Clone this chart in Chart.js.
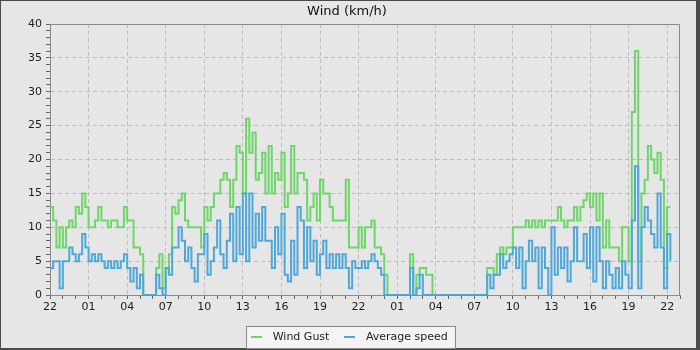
<!DOCTYPE html>
<html>
<head>
<meta charset="utf-8">
<title>Wind (km/h)</title>
<script src="https://cdn.jsdelivr.net/npm/chart.js@4.4.1/dist/chart.umd.min.js"></script>
<style>
  html, body { margin: 0; padding: 0; background: #4b4b4b; }
  #wrap { width: 700px; height: 350px; }
</style>
</head>
<body>
<div id="wrap"><canvas id="windChart" width="700" height="350"></canvas></div>
<script>
// one reading every 15 minutes, first one at 22:00
const stepHours = 0.25;

// tick labels every 3 hours
const xTickLabels = ['22', '01', '04', '07', '10', '13', '16', '19', '22', '01', '04', '07', '10', '13', '16', '19', '22'];

// gust (km/h)
const windGust = [
  13, 11, 7, 10, 7, 10, 11, 10, 13, 12,
  15, 13, 10, 10, 11, 13, 11, 11, 10, 11,
  11, 10, 10, 13, 11, 11, 7, 7, 6, 0,
  0, 0, 0, 4, 6, 1, 4, 6, 13, 12,
  14, 15, 11, 10, 10, 10, 10, 7, 13, 11,
  13, 15, 15, 17, 18, 17, 13, 17, 22, 21,
  15, 26, 21, 24, 17, 18, 21, 15, 22, 15,
  18, 17, 21, 13, 15, 22, 15, 18, 18, 17,
  11, 13, 15, 11, 17, 15, 15, 13, 11, 11,
  11, 11, 17, 7, 7, 7, 10, 7, 10, 10,
  11, 7, 7, 6, 3, 0, 0, 0, 0, 0,
  0, 0, 6, 0, 3, 4, 4, 3, 3, 0,
  0, 0, 0, 0, 0, 0, 0, 0, 0, 0,
  0, 0, 0, 0, 0, 0, 4, 4, 3, 6,
  7, 6, 7, 7, 10, 10, 10, 10, 11, 10,
  11, 10, 11, 10, 11, 11, 11, 11, 13, 11,
  10, 11, 11, 13, 11, 13, 14, 15, 13, 15,
  11, 15, 7, 11, 7, 7, 7, 5, 10, 10,
  5, 27, 36, 5, 15, 17, 22, 20, 18, 21,
  17, 4, 13, 13
];

// average speed (km/h)
const averageSpeed = [
  4, 5, 5, 1, 5, 5, 7, 6, 5, 6,
  9, 7, 5, 6, 5, 6, 5, 4, 5, 4,
  5, 4, 5, 6, 4, 2, 4, 1, 3, 0,
  0, 0, 0, 3, 1, 0, 4, 3, 7, 7,
  10, 8, 5, 7, 4, 2, 6, 6, 9, 3,
  5, 7, 11, 6, 4, 8, 12, 5, 13, 6,
  15, 5, 15, 7, 12, 8, 13, 8, 8, 4,
  10, 6, 12, 3, 2, 8, 3, 13, 11, 4,
  10, 5, 8, 3, 6, 8, 4, 6, 4, 6,
  4, 6, 4, 1, 5, 4, 4, 5, 4, 5,
  6, 5, 4, 3, 0, 0, 0, 0, 0, 0,
  0, 0, 4, 0, 1, 3, 0, 0, 0, 0,
  0, 0, 0, 0, 0, 0, 0, 0, 0, 0,
  0, 0, 0, 0, 0, 0, 3, 1, 3, 3,
  6, 4, 5, 6, 7, 4, 7, 1, 5, 8,
  5, 7, 1, 7, 4, 0, 10, 3, 7, 4,
  7, 2, 5, 10, 5, 5, 9, 4, 10, 2,
  10, 5, 1, 5, 3, 1, 4, 1, 5, 3,
  1, 11, 19, 1, 10, 13, 11, 9, 7, 15,
  7, 1, 9, 5
];

const gustColor = '#6fd66a';
const avgColor = '#4ea8d9';

const hours = windGust.map((_, i) => i * stepHours);

Chart.defaults.font.family = "'DejaVu Sans', sans-serif";
Chart.defaults.font.size = 11;
Chart.defaults.color = '#222';

// small line used as the legend mark
function legendMark(color) {
    const c = document.createElement('canvas');
    c.width = 11;
    c.height = 2;
    const g = c.getContext('2d');
    g.fillStyle = color;
    g.fillRect(0, 0, 11, 2);
    return c;
}

const framePlugin = {
    id: 'frame',
    afterLayout(chart) {
        // push the legend a bit lower, like the original
        chart.legend.top += 2.5;
        chart.legend.bottom += 2.5;
    },
    beforeDraw(chart) {
        const ctx = chart.ctx;
        ctx.save();
        ctx.fillStyle = '#4b4b4b';
        ctx.fillRect(0, 0, chart.width, chart.height);
        ctx.fillStyle = '#e6e6e6';
        ctx.fillRect(1, 1, 695, 347);

        // box around the legend
        const lg = chart.legend;
        const hb = lg.legendHitBoxes;
        if (hb && hb.length) {
            const left = Math.round(hb[0].left) + 0.5;
            const last = hb[hb.length - 1];
            const right = Math.round(last.left + last.width + 7) + 0.5;
            const mid = lg.top + 10 + 5.5;
            const top = Math.round(mid - 11) + 0.5;
            ctx.fillStyle = '#f4f4f4';
            ctx.strokeStyle = '#8a8a8a';
            ctx.lineWidth = 1;
            ctx.fillRect(left, top, right - left, 22);
            ctx.strokeRect(left, top, right - left, 22);
        }
        ctx.restore();
    },
    beforeDatasetsDraw(chart) {
        const {ctx, chartArea: a} = chart;
        ctx.save();
        ctx.strokeStyle = '#8a8a8a';
        ctx.lineWidth = 1;
        ctx.beginPath();
        ctx.moveTo(a.left, Math.round(a.top) + 0.5);
        ctx.lineTo(Math.round(a.right) - 0.5, Math.round(a.top) + 0.5);
        ctx.lineTo(Math.round(a.right) - 0.5, a.bottom);
        ctx.stroke();
        ctx.restore();
    }
};

new Chart(document.getElementById('windChart'), {
    type: 'line',
    data: {
        datasets: [
            {
                label: 'Average speed',
                data: hours.map((h, i) => ({x: h, y: averageSpeed[i]})),
                borderColor: avgColor,
                backgroundColor: avgColor,
                borderWidth: 2,
                stepped: true,
                pointRadius: 0,
                fill: false
            },
            {
                label: 'Wind Gust',
                data: hours.map((h, i) => ({x: h, y: windGust[i]})),
                borderColor: gustColor,
                backgroundColor: gustColor,
                borderWidth: 2,
                stepped: true,
                pointRadius: 0,
                fill: false
            }
        ]
    },
    options: {
        responsive: false,
        animation: false,
        events: [],
        layout: {padding: {left: 14, right: 20, top: 0, bottom: 0}},
        plugins: {
            title: {
                display: true,
                text: 'Wind (km/h)',
                color: '#111',
                font: {size: 13, weight: 'normal'},
                padding: {top: 4, bottom: 4.4}
            },
            legend: {
                position: 'bottom',
                labels: {
                    usePointStyle: true,
                    pointStyleWidth: 21,
                    padding: 10,
                    color: '#222',
                    font: {size: 11},
                    generateLabels: chart => [1, 0].map(i => {
                        const ds = chart.data.datasets[i];
                        return {
                            text: ds.label,
                            pointStyle: legendMark(ds.borderColor),
                            fillStyle: ds.borderColor,
                            strokeStyle: ds.borderColor,
                            lineWidth: 0,
                            hidden: false,
                            datasetIndex: i,
                            fontColor: '#222'
                        };
                    })
                }
            },
            tooltip: {enabled: false}
        },
        scales: {
            x: {
                type: 'linear',
                min: 0,
                max: 49,
                afterFit: scale => { scale.height = 24; },
                ticks: {
                    stepSize: 1,
                    autoSkip: false,
                    maxTicksLimit: 100,
                    maxRotation: 0,
                    padding: 2,
                    color: '#222',
                    callback: v => (v % 3 === 0 ? xTickLabels[v / 3] : '')
                },
                grid: {
                    color: c => (c.tick && c.tick.value % 3 === 0 && c.tick.value > 0 ? '#bdbdbd' : 'transparent'),
                    tickColor: '#666',
                    tickLength: 4,
                    lineWidth: 1
                },
                border: {color: '#8a8a8a', width: 1, dash: [4, 3]}
            },
            y: {
                min: 0,
                max: 40,
                afterFit: scale => { scale.width = 36; },
                ticks: {
                    stepSize: 1,
                    autoSkip: false,
                    maxTicksLimit: 100,
                    padding: 4,
                    color: '#222',
                    callback: v => (v % 5 === 0 ? v : '')
                },
                grid: {
                    color: c => (c.tick && c.tick.value % 5 === 0 && c.tick.value > 0 && c.tick.value < 40 ? '#bdbdbd' : 'transparent'),
                    tickColor: '#666',
                    tickLength: 4,
                    lineWidth: 1
                },
                border: {color: '#8a8a8a', width: 1, dash: [4, 3]}
            }
        }
    },
    plugins: [framePlugin]
});
</script>
</body>
</html>
